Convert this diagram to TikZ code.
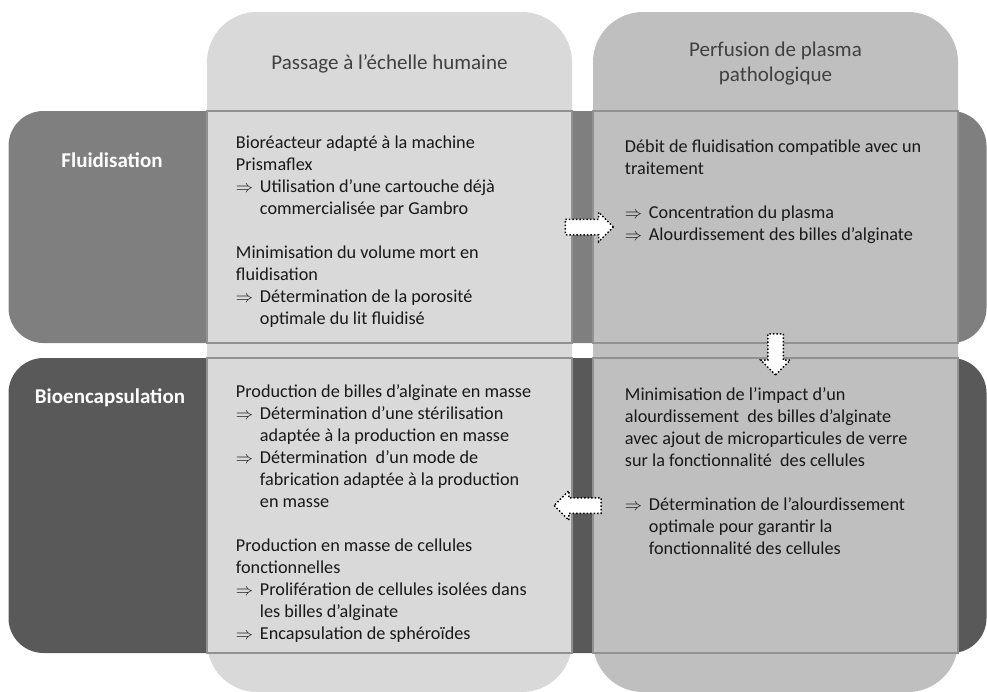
\documentclass[tikz,border=0pt]{standalone}
\usepackage{fontspec}
\setmainfont{Carlito}
\usetikzlibrary{shapes.arrows,calc}
\definecolor{colclair}{RGB}{217,217,217}
\definecolor{colmoyen}{RGB}{191,191,191}
\definecolor{lignefluid}{RGB}{127,127,127}
\definecolor{lignebio}{RGB}{89,89,89}
\definecolor{bordcase}{RGB}{145,145,145}
\definecolor{texteentete}{RGB}{64,64,64}
\newcommand{\donc}{\makebox[24pt][l]{$\Rightarrow$}}
\newcommand{\retrait}{\hspace*{24pt}}

\begin{document}
\begin{tikzpicture}[x=1pt, y=-1pt, every node/.style={font=\fontsize{18.2}{22}\selectfont},
  colonne/.style={rectangle, rounded corners=50pt, minimum width=365pt, minimum height=680pt, inner sep=0pt},
  rangee/.style={rectangle, rounded corners=35pt, minimum width=978pt, inner sep=0pt},
  case/.style={rectangle, draw=bordcase, line width=2.5pt, minimum width=365pt, inner sep=0pt},
  texte/.style={anchor=north west, align=left, inner sep=0pt, text=black!90},
  entete/.style={align=center, text=texteentete, font=\fontsize{21}{25}\selectfont},
  titrerangee/.style={text=white, font=\fontsize{21}{24}\selectfont\bfseries},
  flechebloc/.style={single arrow, draw=black, fill=white, line width=1.5pt, dotted, inner sep=7pt, single arrow head extend=7pt, single arrow head indent=0pt}]
\useasboundingbox (0,0) rectangle (987,691);

% colonnes
\node[colonne, fill=colclair] (colA) at (389.5,352) {};
\node[colonne, fill=colmoyen] (colB) at (775.5,352) {};
% rangees
\node[rangee, fill=lignefluid, minimum height=232pt] (rangA) at (497.5,227) {};
\node[rangee, fill=lignebio, minimum height=295pt] (rangB) at (497.5,505.5) {};

% cases
\node[case, fill=colclair, minimum height=232pt] (c11) at (389.5,227) {};
\node[case, fill=colmoyen, minimum height=232pt] (c12) at (775.5,227) {};
\node[case, fill=colclair, minimum height=295pt] (c21) at (389.5,505.5) {};
\node[case, fill=colmoyen, minimum height=295pt] (c22) at (775.5,505.5) {};

% titres
\node[entete] (titreA) at ($(colA.north)+(0,52)$) {Passage à l’échelle humaine};
\node[entete] (titreB) at ($(colB.north)+(0,52)$) {Perfusion de plasma\\pathologique};
\node[titrerangee] (fluid) at (112,160) {Fluidisation};
\node[titrerangee] (bioenc) at (110,398) {Bioencapsulation};

% textes
\node[texte] (t11) at ($(c11.north west)+(30,26)$) {Bioréacteur adapté à la machine\\
Prismaflex\\
\donc Utilisation d’une cartouche déjà\\
\retrait commercialisée par Gambro\\[22pt]
Minimisation du volume mort en\\
fluidisation\\
\donc Détermination de la porosité\\
\retrait optimale du lit fluidisé};

\node[texte] (t12) at ($(c12.north west)+(33,30)$) {Débit de fluidisation compatible avec un\\
traitement\\[22pt]
\donc Concentration du plasma\\
\donc Alourdissement des billes d’alginate};

\node[texte] (t21) at ($(c21.north west)+(30,28)$) {Production de billes d’alginate en masse\\
\donc Détermination d’une stérilisation\\
\retrait adaptée à la production en masse\\
\donc Détermination\ \ d’un mode de\\
\retrait fabrication adaptée à la production\\
\retrait en masse\\[22pt]
Production en masse de cellules\\
fonctionnelles\\
\donc Prolifération de cellules isolées dans\\
\retrait les billes d’alginate\\
\donc Encapsulation de sphéroïdes};

\node[texte] (t22) at ($(c22.north west)+(33,31)$) {Minimisation de l’impact d’un\\
alourdissement\ \ des billes d’alginate\\
avec ajout de microparticules de verre\\
sur la fonctionnalité\ \ des cellules\\[22pt]
\donc Détermination de l’alourdissement\\
\retrait optimale pour garantir la\\
\retrait fonctionnalité des cellules};

% fleches
\node[flechebloc, minimum height=48pt] (f1) at ($(c11.east)!0.5!(c12.west)+(3,0)$) {};
\node[flechebloc, minimum height=41pt, shape border rotate=270] (f2) at ($(c12.south)!0.5!(c22.north)$) {};
\node[flechebloc, minimum height=47pt, shape border rotate=180] (f3) at ($(c21.east)!0.5!(c22.west)+(-1,0)$) {};
\end{tikzpicture}
\end{document}
